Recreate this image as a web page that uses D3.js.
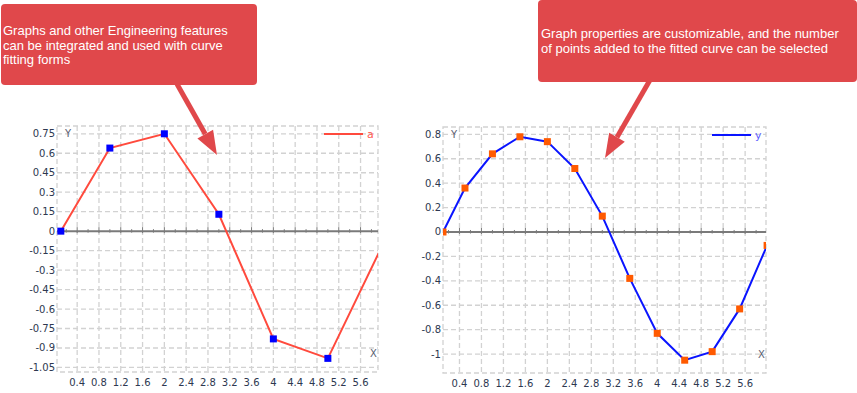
<!DOCTYPE html>
<html>
<head>
<meta charset="utf-8">
<script src="https://cdn.jsdelivr.net/npm/d3@7"></script>
<style>
  body { margin: 0; background: #fff; }
  svg { display: block; }
</style>
</head>
<body>
<svg width="857" height="393"></svg>
<script>
// data
const xA = [0.1, 1, 2, 3, 4, 5, 6];
const aVals = [0, 0.64, 0.75, 0.13, -0.83, -0.98, -0.11];

const xY = [0.1, 0.5, 1, 1.5, 2, 2.5, 3, 3.5, 4, 4.5, 5, 5.5, 6];
const yVals = [0, 0.36, 0.64, 0.78, 0.74, 0.52, 0.13, -0.38, -0.83, -1.05, -0.98, -0.63, -0.11];

const xTicks = [0.4, 0.8, 1.2, 1.6, 2, 2.4, 2.8, 3.2, 3.6, 4, 4.4, 4.8, 5.2, 5.6];
const leftYTicks = [0.75, 0.6, 0.45, 0.3, 0.15, 0, -0.15, -0.3, -0.45, -0.6, -0.75, -0.9, -1.05];
const rightYTicks = [0.8, 0.6, 0.4, 0.2, 0, -0.2, -0.4, -0.6, -0.8, -1];

const notes = [
  ['Graphs and other Engineering features', 'can be integrated and used with curve', 'fitting forms'],
  ['Graph properties are customizable, and the number', 'of points added to the fitted curve can be selected']
];

const svg = d3.select('svg');
const boxColor = '#e0484b';

function chart(opt) {
  const x = d3.scaleLinear().domain(opt.xDomain).range([opt.left, opt.right]);
  const y = d3.scaleLinear().domain(opt.yDomain).range([opt.bottom, opt.top]);
  const g = svg.append('g');

  g.append('clipPath').attr('id', opt.id)
    .append('rect')
    .attr('x', opt.left).attr('y', opt.top)
    .attr('width', opt.right - opt.left).attr('height', opt.bottom - opt.top);

  // grid
  g.selectAll('.vg').data(xTicks).enter().append('line')
    .attr('x1', d => x(d)).attr('x2', d => x(d))
    .attr('y1', opt.top).attr('y2', opt.bottom)
    .attr('stroke', '#d2d2d2').attr('stroke-width', 1.3).attr('stroke-dasharray', '5,3');
  g.selectAll('.hg').data(opt.yTicks.filter(d => d !== 0)).enter().append('line')
    .attr('x1', opt.left).attr('x2', opt.right)
    .attr('y1', d => y(d)).attr('y2', d => y(d))
    .attr('stroke', '#d2d2d2').attr('stroke-width', 1.3).attr('stroke-dasharray', '5,3');
  g.append('rect')
    .attr('x', opt.left).attr('y', opt.top)
    .attr('width', opt.right - opt.left).attr('height', opt.bottom - opt.top)
    .attr('fill', 'none').attr('stroke', '#d2d2d2').attr('stroke-width', 1.3)
    .attr('stroke-dasharray', '5,3');

  // zero axis with ticks
  const y0 = y(0);
  g.append('line')
    .attr('x1', opt.left).attr('x2', opt.right)
    .attr('y1', y0).attr('y2', y0)
    .attr('stroke', '#7a7a7a').attr('stroke-width', 2);
  g.selectAll('.mt').data(xTicks).enter().append('line')
    .attr('x1', d => x(d)).attr('x2', d => x(d))
    .attr('y1', y0 - 4).attr('y2', y0 + 2)
    .attr('stroke', '#7a7a7a').attr('stroke-width', 1);
  g.selectAll('.nt').data(xTicks.map(d => d - 0.2).concat([xTicks[xTicks.length - 1] + 0.2]))
    .enter().append('line')
    .attr('x1', d => x(d)).attr('x2', d => x(d))
    .attr('y1', y0 - 2).attr('y2', y0 + 1.5)
    .attr('stroke', '#7a7a7a').attr('stroke-width', 1);

  // tick labels
  g.selectAll('.yl').data(opt.yTicks).enter().append('text')
    .attr('x', opt.left - 2).attr('y', d => y(d)).attr('dy', '0.35em')
    .attr('text-anchor', 'end')
    .attr('font-family', 'DejaVu Sans').attr('font-size', 10).attr('fill', '#2d3850')
    .text(d => String(d));
  g.selectAll('.xl').data(xTicks).enter().append('text')
    .attr('x', d => x(d)).attr('y', opt.bottom + 14)
    .attr('text-anchor', 'middle')
    .attr('font-family', 'DejaVu Sans').attr('font-size', 10).attr('fill', '#2d3850')
    .text(d => String(d));

  g.append('text').attr('x', opt.left + 8).attr('y', opt.top + 11)
    .attr('font-family', 'DejaVu Sans').attr('font-size', 10).attr('fill', '#5a6070').text('Y');
  g.append('text').attr('x', opt.right - 8).attr('y', opt.bottom - 15)
    .attr('font-family', 'DejaVu Sans').attr('font-size', 10).attr('fill', '#5a6070').text('X');

  // series
  const pts = opt.xs.map((d, i) => [d, opt.ys[i]]);
  const plot = g.append('g').attr('clip-path', `url(#${opt.id})`);
  plot.append('path').datum(pts)
    .attr('d', d3.line().x(d => x(d[0])).y(d => y(d[1])))
    .attr('fill', 'none').attr('stroke', opt.lineColor).attr('stroke-width', 2);
  plot.selectAll('.mk').data(pts).enter().append('rect')
    .attr('x', d => x(d[0]) - 3.5).attr('y', d => y(d[1]) - 3.5)
    .attr('width', 7).attr('height', 7).attr('fill', opt.markColor);

  // legend
  g.append('line')
    .attr('x1', opt.right - 54).attr('x2', opt.right - 15)
    .attr('y1', opt.top + 8).attr('y2', opt.top + 8)
    .attr('stroke', opt.lineColor).attr('stroke-width', 2);
  g.append('text').attr('x', opt.right - 11).attr('y', opt.top + 12)
    .attr('font-family', 'DejaVu Sans').attr('font-size', 11).attr('fill', opt.legendText)
    .text(opt.name);
}

chart({
  id: 'clipA', xs: xA, ys: aVals, name: 'a',
  xDomain: [0.03, 5.92], yDomain: [-1.085, 0.81], yTicks: leftYTicks,
  left: 57, right: 378, top: 126, bottom: 372,
  lineColor: '#ff4a3d', markColor: '#0000ff', legendText: '#ff5a50'
});

chart({
  id: 'clipY', xs: xY, ys: yVals, name: 'y',
  xDomain: [0.1, 5.98], yDomain: [-1.155, 0.86], yTicks: rightYTicks,
  left: 443, right: 766, top: 127, bottom: 373,
  lineColor: '#0a14ff', markColor: '#ff5a00', legendText: '#6060ff'
});

// callouts
function callout(bx, by, bw, bh, lines, tx, ty, lh, arrow) {
  const g = svg.append('g');
  g.append('rect').attr('x', bx).attr('y', by).attr('width', bw).attr('height', bh)
    .attr('rx', 4).attr('fill', boxColor);
  g.selectAll('text').data(lines).enter().append('text')
    .attr('x', tx).attr('y', (d, i) => ty + i * lh)
    .attr('font-family', 'Liberation Sans, Arial').attr('font-size', 13).attr('fill', '#fff')
    .text(d => d);
  const [sx, sy, ex, ey] = arrow;
  const ang = Math.atan2(ey - sy, ex - sx);
  const headLen = 24, headW = 9;
  const bxp = ex - headLen * Math.cos(ang), byp = ey - headLen * Math.sin(ang);
  g.append('line').attr('x1', sx).attr('y1', sy).attr('x2', bxp).attr('y2', byp)
    .attr('stroke', boxColor).attr('stroke-width', 5);
  const px = -Math.sin(ang), py = Math.cos(ang);
  g.append('path')
    .attr('d', `M${ex},${ey}L${bxp + px * headW},${byp + py * headW}L${bxp - px * headW},${byp - py * headW}Z`)
    .attr('fill', boxColor);
}

callout(1, 4, 256, 81, notes[0], 3, 35, 14.5, [177, 84, 217, 155]);
callout(538, 0, 319, 82, notes[1], 541, 38, 15, [650, 80, 605, 158]);
</script>
</body>
</html>
